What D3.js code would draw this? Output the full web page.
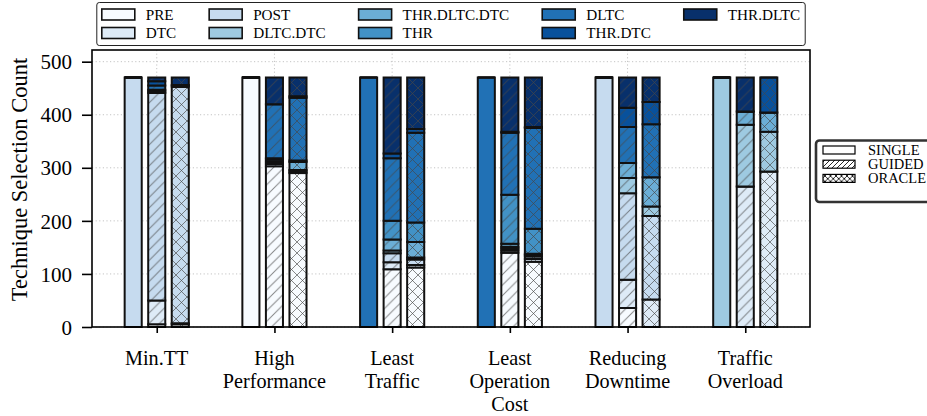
<!DOCTYPE html>
<html>
<head>
<meta charset="utf-8">
<script src="https://cdn.jsdelivr.net/npm/d3@7"></script>
<style>
  html, body { margin: 0; padding: 0; background: #fff; }
  svg text { font-family: "Liberation Serif", "Times New Roman", serif; fill: #000; }
</style>
</head>
<body>
<svg id="chart" width="927" height="416"></svg>
<script>
// Scenario groups on the x axis (each entry is the lines of its label)
const categories = [
  ["Min.TT"],
  ["High", "Performance"],
  ["Least", "Traffic"],
  ["Least", "Operation", "Cost"],
  ["Reducing", "Downtime"],
  ["Traffic", "Overload"]
];

// Techniques, stacked bottom to top
const techniques = ["PRE", "DTC", "POST", "DLTC.DTC", "THR.DLTC.DTC", "THR", "DLTC", "THR.DTC", "THR.DLTC"];

// Selection strategies (one bar per strategy within each group)
const strategies = ["SINGLE", "GUIDED", "ORACLE"];

// Selection counts per scenario, one value per technique (same order as `techniques`)
const singleCounts = [
  [0, 0, 470, 0, 0, 0, 0, 0, 0],
  [470, 0, 0, 0, 0, 0, 0, 0, 0],
  [0, 0, 0, 0, 0, 0, 470, 0, 0],
  [0, 0, 0, 0, 0, 0, 470, 0, 0],
  [0, 0, 470, 0, 0, 0, 0, 0, 0],
  [0, 0, 0, 470, 0, 0, 0, 0, 0]
];
const guidedCounts = [
  [5, 45, 391, 0, 3, 3, 8, 8, 7],
  [303, 4, 4, 0, 4, 3, 102, 0, 50],
  [109, 13, 17, 5, 21, 35, 118, 9, 143],
  [140, 4, 4, 3, 6, 92, 117, 2, 102],
  [36, 53, 163, 29, 28, 0, 68, 36, 57],
  [0, 265, 0, 116, 25, 0, 0, 0, 64]
];
const oracleCounts = [
  [5, 2, 446, 0, 0, 0, 0, 3, 14],
  [290, 3, 3, 0, 15, 3, 118, 3, 35],
  [112, 5, 10, 4, 29, 37, 169, 7, 97],
  [123, 5, 5, 3, 2, 47, 190, 2, 93],
  [0, 52, 157, 18, 55, 0, 100, 42, 46],
  [0, 293, 0, 75, 36, 0, 0, 66, 0]
];

const yTicks = [0, 100, 200, 300, 400, 500];

// ---------------------------------------------------------------------------
const countsByStrategy = [singleCounts, guidedCounts, oracleCounts];
const colors = d3.schemeBlues[9];
const hatchOf = ["", "url(#hatch-guided)", "url(#hatch-oracle)"];

const svg = d3.select("#chart");
const W = 927, H = 416;
const plot = { left: 92, right: 810, top: 50, bottom: 327 };
const TICK_FONT = 21, XLABEL_FONT = 20.2, YTITLE_FONT = 22.5, LEGEND_FONT = 15.2;
const EDGE = "#111";

svg.append("rect").attr("width", W).attr("height", H).attr("fill", "#fff");

const x = d3.scaleLinear().domain([-0.55, categories.length - 0.45]).range([plot.left, plot.right]);
const y = d3.scaleLinear().domain([0, 522]).range([plot.bottom, plot.top]);

const barOffset = [-0.2, 0, 0.2];
const barWidth = 0.145;

// Hatch patterns
const defs = svg.append("defs");
function makeHatch(id, size, cross, color, width) {
  const p = defs.append("pattern").attr("id", id)
    .attr("patternUnits", "userSpaceOnUse")
    .attr("width", size).attr("height", size);
  const s = size;
  let d = `M0,${s}L${s},0M${-s / 2},${s / 2}L${s / 2},${-s / 2}M${s / 2},${s * 1.5}L${s * 1.5},${s / 2}`;
  if (cross) d += `M0,0L${s},${s}M${-s / 2},${s / 2}L${s / 2},${s * 1.5}M${s / 2},${-s / 2}L${s * 1.5},${s / 2}`;
  p.append("path").attr("d", d).attr("stroke", color).attr("stroke-width", width).attr("fill", "none");
}
makeHatch("hatch-guided", 10.5, false, "rgba(70,70,70,0.65)", 1);
makeHatch("hatch-oracle", 11, true, "rgba(70,70,70,0.65)", 1);
makeHatch("hatch-guided-legend", 5, false, "#111", 0.9);
makeHatch("hatch-oracle-legend", 5.5, true, "#111", 0.9);

// Grid
const grid = svg.append("g").attr("class", "grid")
  .attr("stroke", "#c4c4c4").attr("stroke-width", 1).attr("stroke-dasharray", "1.2,2.4");
grid.selectAll("line.h").data(yTicks).join("line").attr("class", "h")
  .attr("x1", plot.left).attr("x2", plot.right)
  .attr("y1", d => y(d)).attr("y2", d => y(d));
grid.selectAll("line.v").data(d3.range(categories.length)).join("line").attr("class", "v")
  .attr("x1", d => x(d)).attr("x2", d => x(d))
  .attr("y1", plot.top).attr("y2", plot.bottom);

// Stacked bars
const bars = svg.append("g").attr("class", "bars");
strategies.forEach((strat, si) => {
  countsByStrategy[si].forEach((row, ci) => {
    const xl = x(ci + barOffset[si] - barWidth / 2);
    const xr = x(ci + barOffset[si] + barWidth / 2);
    let acc = 0;
    row.forEach((v, ti) => {
      const y0 = y(acc), y1 = y(acc + v);
      acc += v;
      const d = `M${xl},${y0}H${xr}V${y1}H${xl}Z`;
      const g = bars.append("g");
      g.append("path").attr("d", d).attr("fill", colors[ti]);
      if (hatchOf[si]) g.append("path").attr("d", d).attr("fill", hatchOf[si]);
      g.append("path").attr("d", d).attr("fill", "none")
        .attr("stroke", EDGE).attr("stroke-width", 2).attr("stroke-linejoin", "miter");
    });
  });
});

// Axes frame
svg.append("rect")
  .attr("x", plot.left).attr("y", plot.top)
  .attr("width", plot.right - plot.left).attr("height", plot.bottom - plot.top)
  .attr("fill", "none").attr("stroke", "#000").attr("stroke-width", 1.6);

// Y axis
const yAxis = svg.append("g").attr("transform", `translate(${plot.left},0)`)
  .call(d3.axisLeft(y).tickValues(yTicks).tickSize(10).tickPadding(10));
yAxis.select(".domain").remove();
yAxis.selectAll(".tick line").attr("stroke", "#000").attr("stroke-width", 1.6);
yAxis.selectAll(".tick text").attr("font-size", TICK_FONT).attr("font-family", null).attr("dy", "0.34em");

// X axis
const xAxis = svg.append("g").attr("transform", `translate(0,${plot.bottom})`)
  .call(d3.axisBottom(x).tickValues(d3.range(categories.length)).tickSize(6).tickFormat(""));
xAxis.select(".domain").remove();
xAxis.selectAll(".tick line").attr("stroke", "#000").attr("stroke-width", 1.6);
const xl = svg.append("g").attr("class", "xlabels");
categories.forEach((lines, ci) => {
  const t = xl.append("text").attr("x", x(ci)).attr("y", 364.5)
    .attr("text-anchor", "middle").attr("font-size", XLABEL_FONT);
  lines.forEach((ln, li) => {
    t.append("tspan").attr("x", x(ci)).attr("dy", li === 0 ? 0 : 23).text(ln);
  });
});

// Y axis title
svg.append("text")
  .attr("transform", `translate(27,${(plot.top + plot.bottom) / 2 - 9}) rotate(-90)`)
  .attr("text-anchor", "middle").attr("font-size", YTITLE_FONT)
  .text("Technique Selection Count");

// Technique legend (two rows, filled column by column)
const legTop = svg.append("g").attr("class", "legend-techniques");
const rowsTop = 2, nCols = Math.ceil(techniques.length / rowsTop);
const handleW = 33, handleH = 11, handleGap = 11, colGap = 33, padX = 5;
const measure = svg.append("text").attr("font-size", LEGEND_FONT).attr("visibility", "hidden");
const textW = techniques.map(t => { measure.text(t); return measure.node().getComputedTextLength(); });
measure.remove();
const colW = d3.range(nCols).map(c => handleW + handleGap + d3.max(
  techniques.slice(c * rowsTop, c * rowsTop + rowsTop).map((_, k) => textW[c * rowsTop + k])));
const totalW = d3.sum(colW) + colGap * (nCols - 1) + padX * 2;
const boxX = (plot.left + plot.right) / 2 - totalW / 2;
legTop.append("rect").attr("x", boxX).attr("y", 2.5).attr("width", totalW).attr("height", 43)
  .attr("rx", 2.5).attr("fill", "#fff").attr("stroke", "#222").attr("stroke-width", 1);
const rowY = [14.5, 33];
techniques.forEach((t, i) => {
  const c = Math.floor(i / rowsTop), r = i % rowsTop;
  const cx = boxX + padX + d3.sum(colW.slice(0, c)) + colGap * c;
  legTop.append("rect").attr("x", cx).attr("y", rowY[r] - handleH / 2)
    .attr("width", handleW).attr("height", handleH)
    .attr("fill", colors[i]).attr("stroke", EDGE).attr("stroke-width", 1.6);
  legTop.append("text").attr("x", cx + handleW + handleGap).attr("y", rowY[r])
    .attr("dy", "0.34em").attr("font-size", LEGEND_FONT).text(t);
});

// Strategy legend (right side)
const legRight = svg.append("g").attr("class", "legend-strategies");
legRight.append("rect").attr("x", 816).attr("y", 140.5).attr("width", 140).attr("height", 61.5)
  .attr("rx", 3.5).attr("fill", "#fff").attr("stroke", "#333").attr("stroke-width", 2.6);
const legFill = ["#fff", "url(#hatch-guided-legend)", "url(#hatch-oracle-legend)"];
strategies.forEach((s, i) => {
  const cy = 150 + i * 14.2;
  legRight.append("rect").attr("x", 823).attr("y", cy - 4).attr("width", 32).attr("height", 8)
    .attr("fill", legFill[i]).attr("stroke", "#000").attr("stroke-width", 1.2);
  legRight.append("text").attr("x", 868).attr("y", cy).attr("dy", "0.34em")
    .attr("font-size", LEGEND_FONT - 0.7).text(s);
});
</script>
</body>
</html>
